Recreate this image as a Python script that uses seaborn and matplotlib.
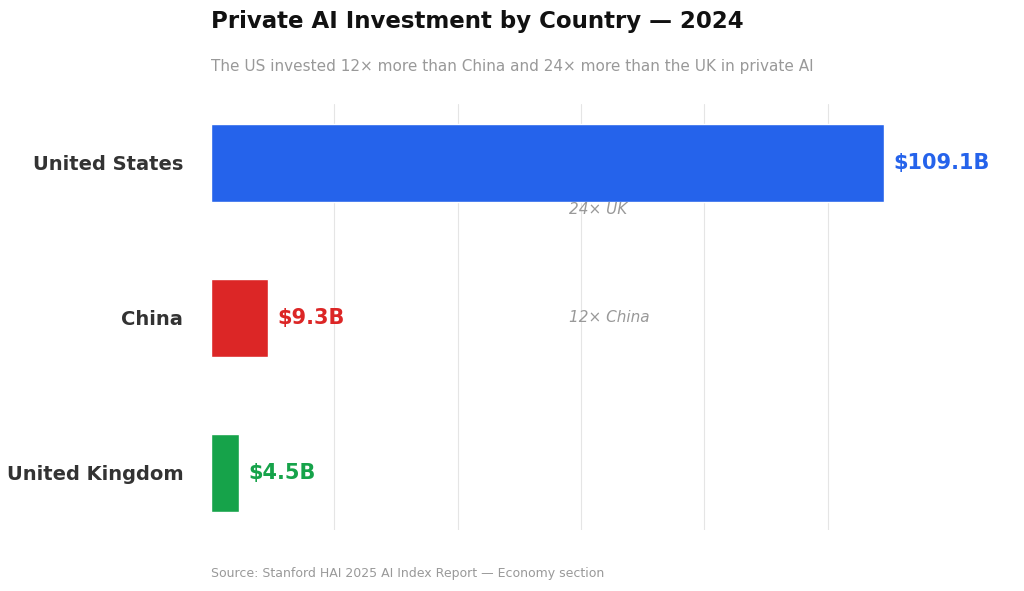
import matplotlib
matplotlib.use("Agg")
import matplotlib.pyplot as plt
import seaborn as sns
import pandas as pd

countries = ["United States", "China", "United Kingdom"]
values = [109.1, 9.3, 4.5]
colors = ["#2563EB", "#DC2626", "#16A34A"]
labels = ["$109.1B", "$9.3B", "$4.5B"]
notes = ["24× UK", "12× China"]
note_x = [58, 58]
note_y = [0.3, 1.0]

sns.set_theme(style="white")
plt.rcParams['font.family'] = ['DejaVu Sans']
fig = plt.figure(figsize=(10.24, 5.91), dpi=100)
ax = fig.add_axes([0.206, 0.103, 0.753, 0.721])
df = pd.DataFrame({"country": countries, "value": values})
sns.barplot(data=df, x="value", y="country", hue="country", palette=colors,
            width=0.5, legend=False, ax=ax, saturation=1)
ax.set_xlim(0, 125)
ax.set_ylim(2.37, -0.38)
ax.set_xticks([20, 40, 60, 80, 100])
ax.xaxis.grid(True, color="#e5e5e5", linewidth=0.8)
ax.set_axisbelow(True)
ax.tick_params(axis="x", labelbottom=False, length=0)
ax.tick_params(axis="y", length=0, pad=20)
for t in ax.get_yticklabels():
    t.set_fontsize(14); t.set_fontweight("bold"); t.set_color("#333333")
ax.set_xlabel(""); ax.set_ylabel("")
for s in ax.spines.values():
    s.set_visible(False)
for i, (v, l, c) in enumerate(zip(values, labels, colors)):
    ax.text(v + 1.5, i, l, va="center", ha="left", fontsize=15, fontweight="bold", color=c)
for n, x, y in zip(notes, note_x, note_y):
    ax.text(x, y, n, va="center", ha="left", fontsize=11, style="italic", color="#999999")
fig.text(0.206, 0.963, "Private AI Investment by Country — 2024", fontsize=16.5,
         fontweight="bold", color="#111111", va="center")
fig.text(0.206, 0.887, "The US invested 12× more than China and 24× more than the UK in private AI",
         fontsize=11, color="#999999", va="center")
fig.text(0.206, 0.030, "Source: Stanford HAI 2025 AI Index Report — Economy section",
         fontsize=9, color="#999999", va="center")
fig.savefig("out.png", dpi=100, facecolor="white")
